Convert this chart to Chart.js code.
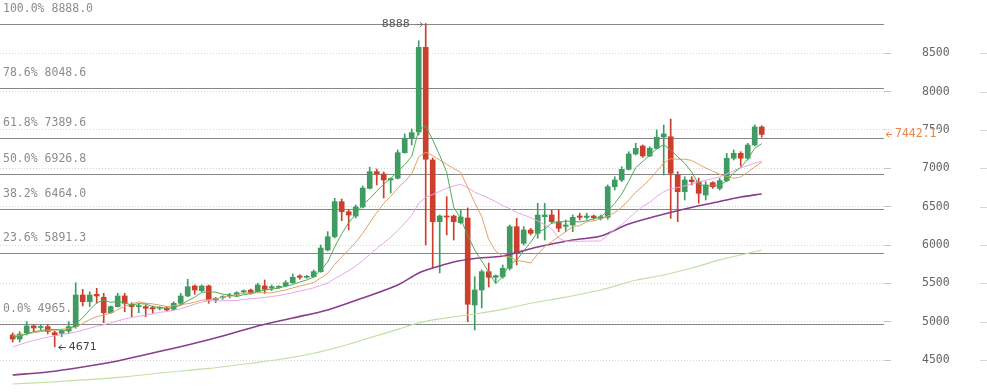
<!DOCTYPE html>
<html><head><meta charset="utf-8">
<style>html,body{margin:0;padding:0;background:#fff;overflow:hidden}#wrap{width:987px;height:392px;position:relative}</style>
<script src="https://cdn.jsdelivr.net/npm/chart.js@4.4.1/dist/chart.umd.min.js"></script>
</head><body><div id="wrap"><canvas id="c" width="987" height="392"></canvas></div>
<script>
const opens=[4827,4774,4853,4944,4924,4935,4857,4849,4879,4935,5348,5261,5357,5318,5117,5196,5335,5227,5196,5196,5183,5175,5175,5162,5240,5335,5466,5404,5466,5283,5313,5335,5348,5387,5413,5391,5466,5439,5448,5466,5509,5596,5579,5587,5652,5935,6108,6565,6434,6378,6496,6739,6956,6926,6848,6870,7204,7392,7474,8578,7109,6304,6378,6378,6291,6352,5218,5413,5652,5579,5587,5696,6239,6022,6196,6153,6369,6391,6304,6244,6261,6378,6361,6378,6348,6361,6760,6848,6987,7187,7291,7161,7261,7409,7412,6913,6695,6848,6826,6652,6813,6739,6839,7131,7196,7131,7304,7539];
const highs=[4853,4870,5000,4957,4957,4957,4879,4901,5000,5509,5422,5391,5435,5370,5205,5370,5370,5248,5240,5218,5205,5196,5196,5261,5370,5553,5479,5479,5479,5318,5339,5370,5391,5413,5426,5500,5544,5479,5469,5535,5622,5613,5605,5674,6000,6174,6609,6600,6457,6522,6770,7013,6991,6952,6874,7239,7448,7513,8664,8888,7135,6391,6630,6391,6457,6483,5587,5674,5765,5609,5739,6261,6348,6239,6218,6544,6544,6457,6457,6326,6391,6414,6414,6391,6391,6783,6891,7021,7217,7326,7304,7282,7500,7565,7643,6956,6891,6891,6874,6826,6826,6870,7196,7239,7217,7326,7565,7556];
const lows=[4735,4735,4827,4870,4892,4840,4671,4805,4849,4914,5205,5196,5240,4987,5109,5192,5130,5065,5117,5065,5109,5153,5139,5153,5218,5326,5357,5391,5240,5248,5292,5309,5326,5370,5361,5383,5370,5404,5435,5456,5500,5553,5566,5579,5644,5922,6091,6317,6196,6352,6483,6730,6783,6613,6678,6861,7196,7304,7435,6000,5700,5635,6131,6065,6274,5000,4892,5179,5452,5505,5566,5674,5739,6000,6131,6088,6065,6283,6174,6174,6174,6326,6335,6335,6326,6335,6717,6826,6978,7174,7144,7152,7252,6913,6348,6304,6587,6783,6544,6587,6739,6717,6826,7109,7030,7109,7291,7405];
const closes=[4774,4840,4944,4918,4935,4870,4827,4879,4935,5348,5261,5348,5335,5117,5196,5335,5240,5196,5209,5175,5166,5183,5153,5240,5335,5456,5413,5466,5283,5305,5326,5348,5378,5404,5370,5479,5422,5456,5456,5509,5579,5579,5592,5652,5961,6108,6565,6434,6391,6496,6743,6956,6926,6848,6867,7204,7392,7465,8578,7118,6304,6378,6365,6304,6365,5227,5413,5652,5579,5600,5696,6239,5892,6196,6153,6391,6391,6304,6218,6261,6361,6361,6378,6356,6369,6760,6848,6987,7187,7261,7161,7261,7405,7448,6935,6695,6848,6826,6674,6783,6760,6839,7131,7196,7131,7304,7539,7442.1];

const ma5=[4800,4810,4840,4870,4882,4901,4899,4886,4889,4972,5050,5154,5245,5282,5251,5266,5245,5217,5235,5231,5197,5186,5177,5183,5215,5273,5319,5382,5391,5385,5359,5346,5328,5352,5365,5396,5411,5426,5437,5464,5484,5516,5543,5582,5673,5778,5976,6144,6292,6399,6526,6604,6702,6794,6868,6960,7047,7155,7501,7551,7371,7169,6949,6494,6343,6128,5935,5792,5647,5494,5588,5753,5801,5925,6035,6174,6205,6287,6291,6313,6307,6301,6316,6343,6365,6445,6542,6664,6830,7009,7089,7171,7255,7307,7242,7149,7066,6950,6796,6765,6778,6776,6837,6942,7011,7120,7260,7322];
const ma10=[4815,4825,4840,4855,4870,4880,4890,4900,4912,4927,4976,5027,5066,5086,5112,5158,5200,5231,5259,5241,5232,5216,5197,5209,5223,5235,5253,5280,5287,5300,5316,5333,5355,5372,5375,5378,5379,5377,5395,5415,5440,5464,5485,5510,5569,5631,5746,5844,5937,6036,6152,6290,6423,6543,6634,6743,6826,6929,7148,7210,7166,7108,7052,6998,6947,6750,6552,6371,6071,5919,5858,5844,5797,5786,5765,5881,5979,6044,6108,6174,6241,6253,6302,6317,6339,6376,6422,6490,6587,6687,6767,6857,6960,7069,7126,7119,7119,7103,7052,7004,6964,6921,6894,6869,6888,6949,7018,7080];
const ma20=[4670,4700,4730,4755,4778,4798,4815,4832,4848,4865,4890,4915,4940,4960,4985,5010,5035,5055,5070,5084,5104,5122,5132,5148,5168,5197,5227,5256,5273,5271,5274,5275,5276,5291,5299,5307,5316,5329,5341,5358,5378,5399,5420,5441,5472,5505,5563,5611,5666,5726,5796,5877,5954,6027,6102,6187,6286,6387,6543,6623,6659,6699,6738,6771,6791,6747,6689,6650,6610,6565,6512,6476,6425,6392,6356,6316,6266,6208,6090,6047,6050,6049,6050,6052,6052,6129,6201,6267,6348,6431,6504,6555,6631,6693,6733,6748,6771,6797,6820,6846,6866,6889,6927,6969,7007,7034,7069,7092];
const ma60Idx=[0,5,10,15,20,25,30,35,40,45,50,55,58,60,63,66,70,75,80,84,88,92,96,100,104,107];
const ma60=[4305,4344,4409,4488,4592,4696,4813,4944,5048,5153,5309,5479,5635,5700,5779,5824,5857,5974,6065,6117,6274,6378,6470,6548,6626,6665];
const ma120Idx=[0,5,10,16,21,28,34,39,43,47,51,55,58,62,66,70,74,79,84,89,93,97,101,104,107];
const ma120=[4187,4210,4240,4280,4331,4390,4458,4520,4588,4680,4790,4900,4985,5050,5100,5160,5240,5320,5413,5540,5609,5700,5805,5870,5935];

const fibPct=['100.0%','78.6%','61.8%','50.0%','38.2%','23.6%','0.0%'];
const fibVal=[8888.0,8048.6,7389.6,6926.8,6464.0,5891.3,4965.6];
const yTicks=[4500,5000,5500,6000,6500,7000,7500,8000,8500];
const peakIdx=59, peakVal=8888, lowIdx=6, lowVal=4671, lastPrice=7442.1;

const UP='#3f9b62', DOWN='#cd3f2d';
const idx=opens.map((_,i)=>i);
const colors=idx.map(i=>closes[i]>=opens[i]?UP:DOWN);

function arrow(ctx,x1,x2,y,color){
  ctx.strokeStyle=color;ctx.lineWidth=1;ctx.beginPath();
  ctx.moveTo(x1,y);ctx.lineTo(x2,y);
  const d=x2>x1?-3:3;
  ctx.moveTo(x2+d,y-2.5);ctx.lineTo(x2,y);ctx.lineTo(x2+d,y+2.5);
  ctx.stroke();
}

const overlay={
  id:'overlay',
  beforeDatasetsDraw(chart){
    const {ctx,chartArea:a,scales:{y}}=chart;
    ctx.save();
    ctx.font='11.5px "DejaVu Sans Mono", monospace';
    ctx.textBaseline='middle';ctx.textAlign='left';
    fibVal.forEach((v,k)=>{
      const py=Math.round(y.getPixelForValue(v))+0.5;
      ctx.strokeStyle='#868686';ctx.lineWidth=1;
      ctx.beginPath();ctx.moveTo(a.left,py);ctx.lineTo(a.right,py);ctx.stroke();
      ctx.fillStyle='#8c8c8c';
      ctx.fillText(fibPct[k]+' '+v.toFixed(1),a.left+3,py-15.5);
    });
    ctx.restore();
  },
  afterDraw(chart){
    const {ctx,chartArea:a,scales:{x,y}}=chart;
    ctx.save();
    ctx.textBaseline='middle';
    ctx.font='11px "DejaVu Sans", sans-serif';
    ctx.fillStyle='#555';
    const px=x.getPixelForValue(peakIdx), py=Math.round(y.getPixelForValue(peakVal))+0.5;
    ctx.textAlign='right';ctx.fillText(String(peakVal),px-16,py);
    arrow(ctx,px-9,px-3,py,'#777');
    const lx=x.getPixelForValue(lowIdx), ly=Math.round(y.getPixelForValue(lowVal))+0.5;
    arrow(ctx,lx+11,lx+4,ly,'#444');
    ctx.textAlign='left';ctx.fillStyle='#444';ctx.fillText(String(lowVal),lx+14,ly);
    const cy=Math.round(y.getPixelForValue(lastPrice))+0.5;
    ctx.fillStyle='#fff';ctx.fillRect(a.right+1,cy-5,53,11);
    arrow(ctx,a.right+8,a.right+2,cy,'#e8844a');
    ctx.font='11.5px "DejaVu Sans Mono", monospace';
    ctx.fillStyle='#e8844a';ctx.fillText(lastPrice.toFixed(1),a.right+11,cy);
    ctx.strokeStyle='#d6d6d6';ctx.lineWidth=1;
    yTicks.forEach(v=>{const ty=Math.round(y.getPixelForValue(v))+0.5;ctx.beginPath();ctx.moveTo(980,ty);ctx.lineTo(987,ty);ctx.stroke();});
    ctx.restore();
  }
};

const lineDs=(data,color,w,order,tension)=>({type:'line',data,borderColor:color,borderWidth:w,pointRadius:0,fill:false,order,tension:tension||0});

new Chart(document.getElementById('c'),{
  type:'bar',
  data:{datasets:[
    {type:'bar',data:idx.map(i=>({x:i,y:[lows[i],highs[i]]})),backgroundColor:colors,barThickness:1,grouped:false,order:9},
    {type:'bar',data:idx.map(i=>({x:i,y:[opens[i],closes[i]]})),backgroundColor:colors,barThickness:5,grouped:false,minBarLength:1,order:8},
    lineDs(ma120Idx.map((k,j)=>({x:k,y:ma120[j]})),'#bfe0a2',1.2,5,0.3),
    lineDs(ma60Idx.map((k,j)=>({x:k,y:ma60[j]})),'#8a3d8c',1.6,4,0.3),
    lineDs(idx.map(i=>({x:i,y:ma20[i]})),'#e7a6e7',1,3),
    lineDs(idx.map(i=>({x:i,y:ma10[i]})),'#e0a264',1,2),
    lineDs(idx.map(i=>({x:i,y:ma5[i]})),'#4cae52',1,1)
  ]},
  options:{
    responsive:false,animation:false,devicePixelRatio:1,
    layout:{padding:0,autoPadding:false},
    plugins:{legend:{display:false},tooltip:{enabled:false}},
    scales:{
      x:{type:'linear',display:false,min:-1.814,max:124.47,offset:false},
      y:{type:'linear',position:'right',min:4083,max:9195,
        afterBuildTicks:s=>{s.ticks=yTicks.map(v=>({value:v}));},
        afterFit:s=>{s.width=103;s.paddingTop=0;s.paddingBottom=0;},
        grid:{color:'#d4d4d4',lineWidth:1,drawTicks:true,tickLength:7,tickColor:'#c4c4c4',tickBorderDash:[],tickWidth:1},
        border:{display:false,dash:[1,2]},
        ticks:{padding:31,color:'#666',font:{family:'"DejaVu Sans Mono", monospace',size:11.5},callback:v=>String(v)}
      }
    }
  },
  plugins:[overlay]
});
</script></body></html>
